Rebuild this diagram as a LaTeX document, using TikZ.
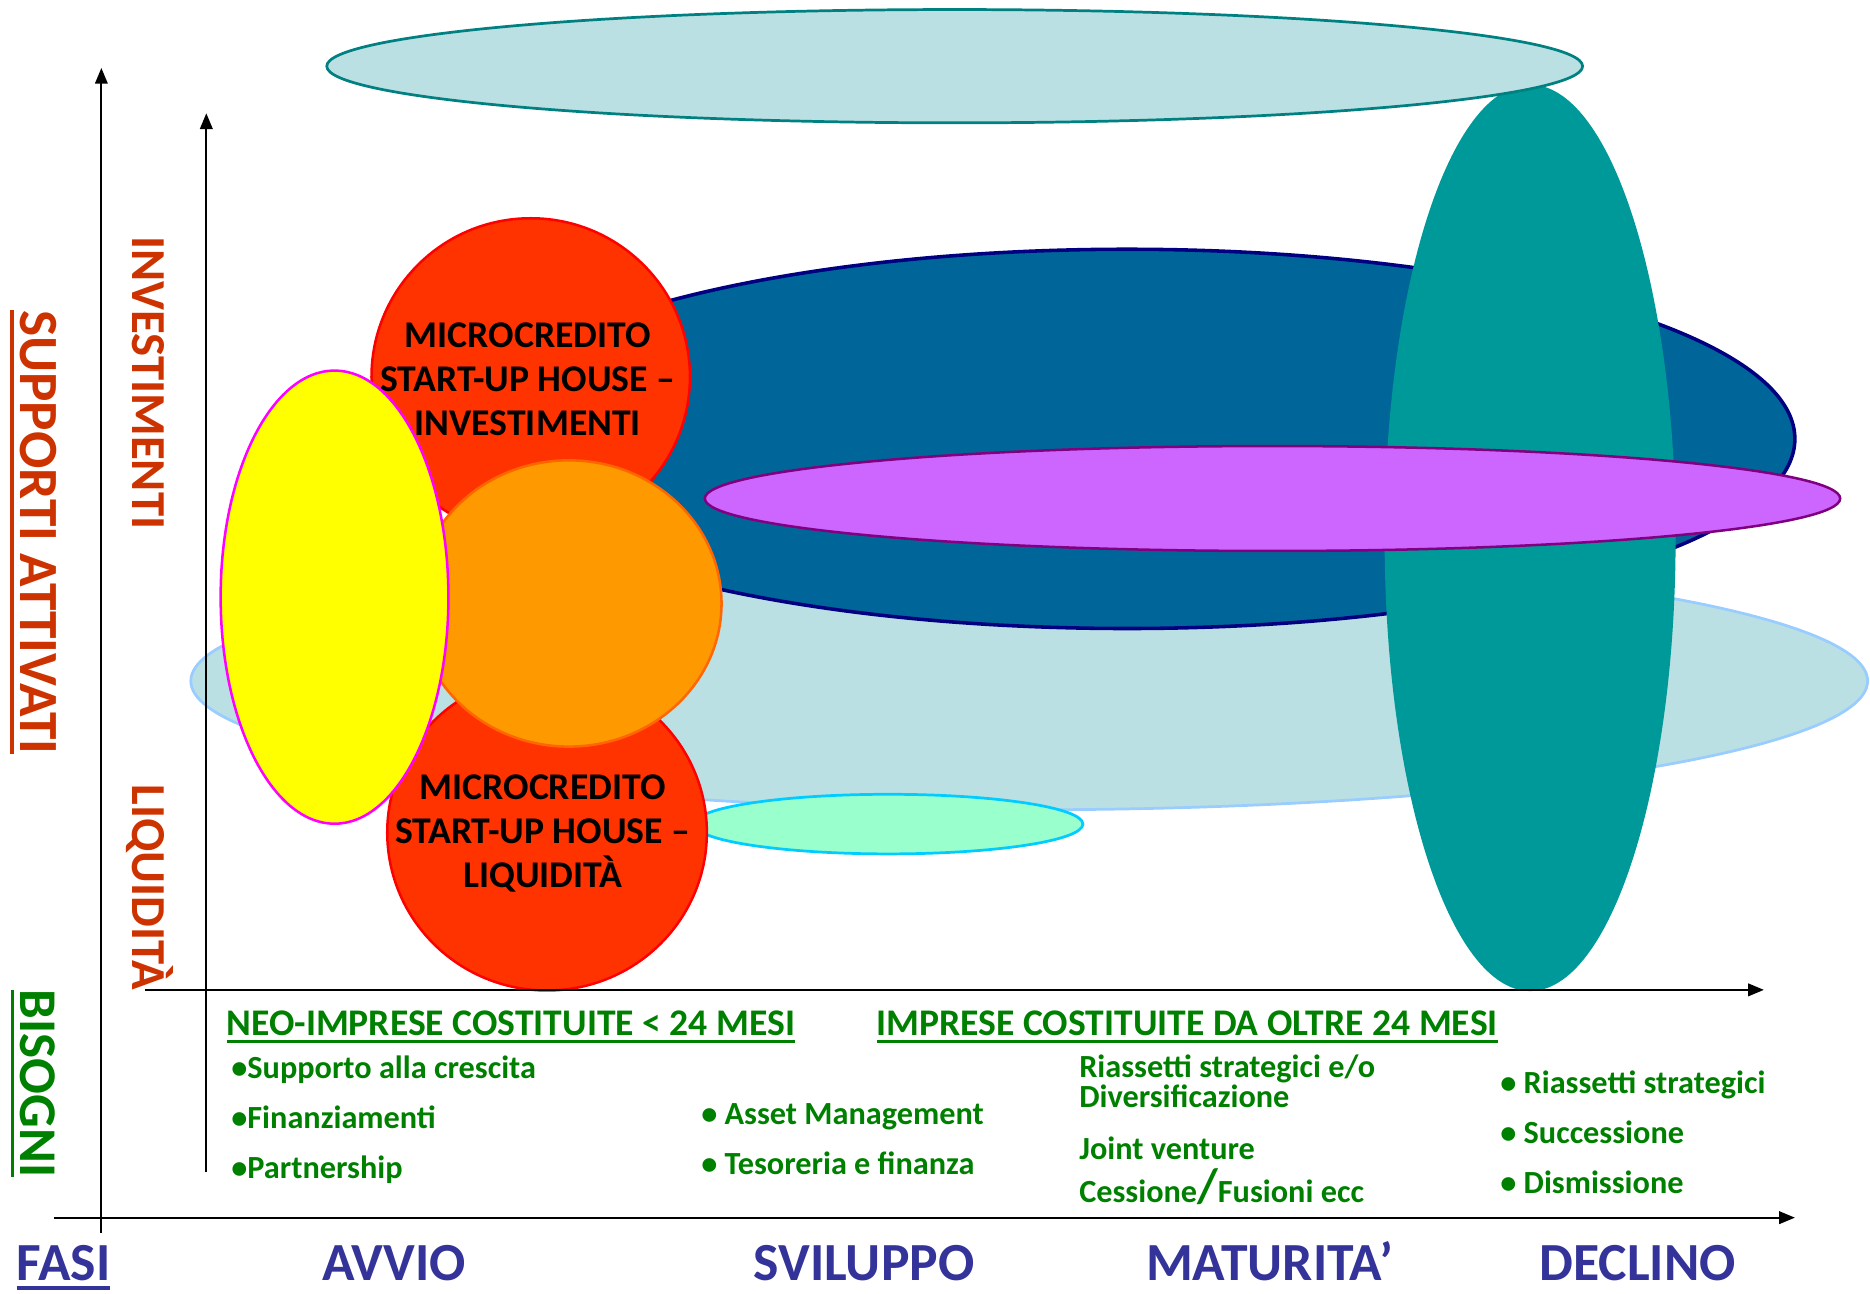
\documentclass[tikz,border=0pt]{standalone}
\usepackage{fontspec}
\setmainfont{Carlito}
\usetikzlibrary{shapes.geometric,arrows.meta,calc}
\definecolor{paleblue}{RGB}{187,224,227}
\definecolor{tealline}{HTML}{008080}
\definecolor{skyline}{HTML}{99CCFF}
\definecolor{deepblue}{HTML}{006699}
\definecolor{navyline}{HTML}{000080}
\definecolor{tealfill}{HTML}{009999}
\definecolor{lilac}{HTML}{CC66FF}
\definecolor{plumline}{HTML}{800080}
\definecolor{mintfill}{HTML}{99FFCC}
\definecolor{cyanline}{HTML}{00CCFF}
\definecolor{redfill}{HTML}{FF3300}
\definecolor{redline}{HTML}{FF0000}
\definecolor{orangefill}{HTML}{FF9900}
\definecolor{orangeline}{HTML}{FF6600}
\definecolor{yellowfill}{HTML}{FFFF00}
\definecolor{magline}{HTML}{FF00FF}
\definecolor{rusttext}{HTML}{CC3300}
\definecolor{greentext}{HTML}{008000}
\definecolor{bluetext}{HTML}{333399}
\newcommand{\pxu}{*0.02cm}
\tikzset{
  blob/.style={ellipse, inner sep=0pt, outer sep=0pt},
  axisline/.style={line width=0.9pt, -{Triangle[length=7.5pt,width=6pt]}},
  txt/.style={inner sep=0pt, outer sep=0pt, anchor=base west},
  sidelabel/.style={txt, rotate=-90},
  rustbig/.style={sidelabel, text=rusttext, font=\fontsize{26.4}{30}\selectfont\bfseries},
  rustmid/.style={sidelabel, text=rusttext, font=\fontsize{23.3}{27}\selectfont\bfseries},
  greenbig/.style={sidelabel, text=greentext, font=\fontsize{25.3}{30}\selectfont\bfseries},
  phase/.style={txt, text=bluetext, font=\fontsize{25.6}{30}\selectfont\bfseries},
  header/.style={txt, text=greentext, font=\fontsize{17.95}{21}\selectfont\bfseries},
  item/.style={txt, text=greentext, font=\fontsize{15.4}{18}\selectfont\bfseries},
  circletext/.style={align=center, text=black, font=\fontsize{18}{21}\selectfont\bfseries},
  uline/.style={line width=1.5pt},
}
\begin{document}
\begin{tikzpicture}[x=0.02cm,y=-0.02cm]
\useasboundingbox (0,0) rectangle (1568,1085);

% ellipses, back to front
\node[blob, fill=paleblue, draw=skyline, line width=1.3pt, minimum width=1406\pxu, minimum height=216\pxu] (lb) at (863,571) {};
\node[blob, fill=mintfill, draw=cyanline, line width=1.3pt, minimum width=326\pxu, minimum height=50\pxu] (mint) at (745,691) {};
\node[blob, fill=deepblue, draw=navyline, line width=1.7pt, minimum width=1120\pxu, minimum height=318\pxu] (db) at (945,368) {};
\node[blob, fill=tealfill, minimum width=244\pxu, minimum height=760\pxu] (tl) at (1283,451) {};
\node[blob, fill=lilac, draw=plumline, line width=1.2pt, minimum width=952\pxu, minimum height=88\pxu] (pu) at (1067,418) {};
\node[blob, fill=paleblue, draw=tealline, line width=1.3pt, minimum width=1053\pxu, minimum height=95\pxu] (top) at (800.5,55.5) {};
\node[blob, fill=redfill, draw=redline, line width=1.2pt, minimum width=267\pxu, minimum height=266\pxu] (rt) at (445,316) {};
\node[blob, fill=redfill, draw=redline, line width=1.2pt, minimum width=268\pxu, minimum height=265\pxu] (rb) at (458.7,698) {};
\node[blob, fill=orangefill, draw=orangeline, line width=1.2pt, minimum width=256\pxu, minimum height=240\pxu] (or) at (477,506) {};
\node[blob, fill=yellowfill, draw=magline, line width=1.2pt, minimum width=191\pxu, minimum height=380\pxu] (ye) at (280.5,500.7) {};

% circle texts
\node[circletext] (rtt) at (442.5,318) {MICROCREDITO\\START-UP HOUSE --\\INVESTIMENTI};
\node[circletext] (rbt) at (455,699) {MICROCREDITO\\START-UP HOUSE --\\LIQUIDITÀ};

% axes
\coordinate (o1b) at (85,1034);
\coordinate (o1t) at (85,57);
\coordinate (h1s) at (45,1021);
\coordinate (h1e) at (1505,1021);
\coordinate (v2b) at (173,983);
\coordinate (v2t) at (173,95);
\coordinate (h2s) at (122,830);
\coordinate (h2e) at (1479,830);
\draw[axisline] (o1b) -- (o1t);
\draw[axisline] (h1s) -- (h1e);
\draw[axisline] (v2b) -- (v2t);
\draw[axisline] (h2s) -- (h2e);

% side labels
\node[rustbig] (sup) at (17.6,260) {SUPPORTI ATTIVATI};
\draw[uline, draw=rusttext] ($(sup.base west)+(-7.5,0)$) -- ($(sup.base east)+(-7.5,0)$);
\node[greenbig] (bis) at (17.3,830) {BISOGNI};
\draw[uline, draw=greentext] ($(bis.base west)+(-6.5,0)$) -- ($(bis.base east)+(-6.5,0)$);
\node[rustmid] (inv) at (111,198) {INVESTIMENTI};
\node[rustmid] (liq) at (111,658) {LIQUIDITÀ};

% phases
\node[phase] (fasi) at (14,1074) {FASI};
\draw[uline, draw=bluetext] ($(fasi.base west)+(0,6)$) -- ($(fasi.base east)+(0,6)$);
\node[phase] (avvio) at (270,1074) {AVVIO};
\node[phase] (svil) at (632,1074) {SVILUPPO};
\node[phase] (matu) at (961,1074) {MATURITA’};
\node[phase] (decl) at (1291,1074) {DECLINO};

% headers
\node[header] (neo) at (190,868) {NEO-IMPRESE COSTITUITE < 24 MESI};
\draw[uline, draw=greentext] ($(neo.base west)+(0,5)$) -- ($(neo.base east)+(0,5)$);
\node[header] (imp) at (735,868) {IMPRESE COSTITUITE DA OLTRE 24 MESI};
\draw[uline, draw=greentext] ($(imp.base west)+(0,5)$) -- ($(imp.base east)+(0,5)$);

% items
\node[item] (i1) at (194,904) {•Supporto alla crescita};
\node[item] (i2) at (194,946) {•Finanziamenti};
\node[item] (i3) at (194,988) {•Partnership};
\node[item] (i4) at (588,943) {• Asset Management};
\node[item] (i5) at (588,985) {• Tesoreria e finanza};
\node[item, align=left, font=\fontsize{15.4}{13.4}\selectfont\bfseries] (i6) at (905,929) {Riassetti strategici e/o\\Diversificazione};
\node[item] (i8) at (905,972.5) {Joint venture};
\node[item] (i9) at (905,1008) {Cessione{\fontsize{23}{23}\selectfont/}Fusioni ecc};
\node[item] (i10) at (1258,917) {• Riassetti strategici};
\node[item] (i11) at (1258,959) {• Successione};
\node[item] (i12) at (1258,1001) {• Dismissione};
\end{tikzpicture}
\end{document}
